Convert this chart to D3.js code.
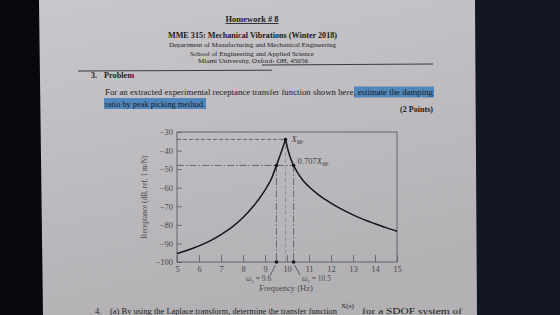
<!DOCTYPE html>
<html lang="en">
<head>
<meta charset="UTF-8">
<title>Receptance FRF - peak picking</title>
<script src="https://d3js.org/d3.v7.min.js"></script>
<style>
  html, body { margin: 0; padding: 0; background: #0b0c12; }
  svg { display: block; }
  .serif { font-family: "Liberation Serif", "DejaVu Serif", serif; }
  .tick text { fill: #4a4a4e; font-size: 8.5px; }
</style>
</head>
<body>
<svg id="chart" width="560" height="315"></svg>
<script>
// curve, split at the peak so it keeps its cusp
const freqLeft  = [5, 5.5, 6, 6.5, 7, 7.5, 8, 8.5, 9, 9.3, 9.52, 9.72, 9.93];
const dbLeft    = [-95.4, -93.5, -91.3, -88.6, -85.2, -81.2, -76, -69.6, -61.3, -54.9, -48, -41.5, -34];
const freqRight = [9.93, 10.1, 10.3, 10.5, 10.75, 11, 11.5, 12, 12.5, 13, 13.5, 14, 14.5, 15];
const dbRight   = [-34, -42, -48, -52.3, -56.4, -59.5, -64.4, -68.3, -71.7, -74.6, -77.2, -79.4, -81.5, -83.4];

const xTicks = [5, 6, 7, 8, 9, 10, 11, 12, 13, 14, 15];
const yTicks = [-30, -40, -50, -60, -70, -80, -90, -100];

// peak picking markers
const peakFreq = 9.93, peakDb = -34;
const halfDb = -48;
const w1Freq = 9.52, w2Freq = 10.3;
const w1Label = "9.6", w2Label = "10.5";

const svg = d3.select("#chart");

// background: desk left/right and the sheet of paper
const defs = svg.append("defs");
const grad = defs.append("linearGradient").attr("id", "paper")
  .attr("x1", 0).attr("y1", 0).attr("x2", 0.3).attr("y2", 1);
grad.append("stop").attr("offset", "0%").attr("stop-color", "#c9c7cb");
grad.append("stop").attr("offset", "100%").attr("stop-color", "#b3b1b4");

svg.append("rect").attr("width", 560).attr("height", 315).attr("fill", "#08090c");
svg.append("polygon").attr("points", "475,0 560,0 560,315 477,315").attr("fill", "#131725");
svg.append("polygon").attr("points", "39,0 475,0 477,315 43,315").attr("fill", "url(#paper)");

const page = svg.append("g").attr("class", "serif").attr("fill", "#1c1c22");

function line(txt, x, y, size, opts = {}) {
  const t = page.append("text").attr("x", x).attr("y", y)
    .attr("font-size", size).text(txt);
  if (opts.anchor) t.attr("text-anchor", opts.anchor);
  if (opts.bold) t.attr("font-weight", "bold");
  if (opts.width) t.attr("textLength", opts.width).attr("lengthAdjust", "spacingAndGlyphs");
  if (opts.underline) t.attr("text-decoration", "underline");
  return t;
}

// header
line("Homework # 8", 252, 22, 8.5, { anchor: "middle", bold: true, underline: true, width: 53 });
line("MME 315: Mechanical Vibrations (Winter 2018)", 252.5, 37.5, 8, { anchor: "middle", bold: true, width: 169 });
line("Department of Manufacturing and Mechanical Engineering", 252.5, 47, 6.5, { anchor: "middle", width: 167 });
line("School of Engineering and Applied Science", 252, 55.5, 6.5, { anchor: "middle", width: 124 });
line("Miami University, Oxford- OH, 45056", 253, 62.5, 6.5, { anchor: "middle", width: 110 });

page.append("path").attr("d", "M78,71 L272,70.2 M262,65 L433,64")
  .attr("stroke", "#2a2a30").attr("stroke-width", 0.9).attr("fill", "none");

line("3.", 91, 78, 8, { bold: true });
line("Problem", 104, 78, 8, { bold: true, width: 30 });

// highlighted part of the question
page.append("rect").attr("x", 354).attr("y", 86.5).attr("width", 80).attr("height", 11).attr("fill", "#4f86bb");
page.append("rect").attr("x", 104).attr("y", 98).attr("width", 102).attr("height", 11).attr("fill", "#4f86bb");
line("For an extracted experimental receptance transfer function shown here, estimate the damping", 105, 95, 8.2, { width: 328 });
line("ratio by peak picking method.", 105, 106.5, 8.2, { width: 100 });
line("(2 Points)", 433, 112, 8, { anchor: "end", bold: true, width: 33 });

// chart
const x = d3.scaleLinear().domain([5, 15]).range([177, 397]);
const y = d3.scaleLinear().domain([-100, -30]).range([262, 132]);

const chart = svg.append("g").attr("class", "serif");
chart.append("rect").attr("x", x(5)).attr("y", y(-30))
  .attr("width", x(15) - x(5)).attr("height", y(-100) - y(-30))
  .attr("fill", "none").attr("stroke", "#5a5a60").attr("stroke-width", 0.9);

const xAxis = chart.append("g").attr("transform", `translate(0,${y(-100)})`)
  .call(d3.axisBottom(x).tickValues(xTicks).tickSize(-7).tickPadding(4).tickFormat(d3.format("d")));
const yAxis = chart.append("g").attr("transform", `translate(${x(5)},0)`)
  .call(d3.axisLeft(y).tickValues(yTicks).tickSize(-5).tickPadding(4).tickFormat(d => "\u2212" + Math.abs(d)));
[xAxis, yAxis].forEach(a => {
  a.select(".domain").remove();
  a.selectAll(".tick line").attr("stroke", "#5a5a60").attr("stroke-width", 0.8);
  a.selectAll(".tick text").attr("font-family", "Liberation Serif");
});

chart.append("text").attr("transform", `translate(147,${(y(-30) + y(-100)) / 2}) rotate(-90)`)
  .attr("text-anchor", "middle").attr("font-size", 7.5).attr("fill", "#4a4a4e")
  .attr("textLength", 83).attr("lengthAdjust", "spacingAndGlyphs")
  .text("Receptance (dB, ref. 1 m/N)");
chart.append("text").attr("x", 286).attr("y", 291).attr("text-anchor", "middle")
  .attr("font-size", 8.5).attr("fill", "#4a4a4e").text("Frequency (Hz)");

// guide lines
const guide = chart.append("g").attr("fill", "none").attr("stroke-width", 0.8);
guide.append("line").attr("x1", x(5)).attr("x2", x(peakFreq)).attr("y1", y(peakDb)).attr("y2", y(peakDb))
  .attr("stroke", "#505058").attr("stroke-dasharray", "4,2");
guide.append("line").attr("x1", x(5)).attr("x2", x(w2Freq)).attr("y1", y(halfDb)).attr("y2", y(halfDb))
  .attr("stroke", "#505058").attr("stroke-dasharray", "7,2,1.5,2");
guide.append("line").attr("x1", x(peakFreq)).attr("x2", x(peakFreq)).attr("y1", y(peakDb)).attr("y2", y(-100))
  .attr("stroke", "#7a8a9a").attr("stroke-dasharray", "4,2.5");
[w1Freq, w2Freq].forEach(f => {
  guide.append("line").attr("x1", x(f)).attr("x2", x(f)).attr("y1", y(halfDb)).attr("y2", y(-100))
    .attr("stroke", "#505058").attr("stroke-dasharray", "7,2,1.5,2");
});

// response curve
const curve = d3.line().x(d => x(d[0])).y(d => y(d[1])).curve(d3.curveMonotoneX);
chart.append("path").datum(d3.zip(freqLeft, dbLeft)).attr("d", curve)
  .attr("fill", "none").attr("stroke", "#15151a").attr("stroke-width", 1.5);
chart.append("path").datum(d3.zip(freqRight, dbRight)).attr("d", curve)
  .attr("fill", "none").attr("stroke", "#15151a").attr("stroke-width", 1.5);

// dots
const dots = [[peakFreq, peakDb], [w1Freq, halfDb], [w2Freq, halfDb], [w1Freq, -100], [w2Freq, -100]];
chart.selectAll("circle.pt").data(dots).join("circle").attr("class", "pt")
  .attr("cx", d => x(d[0])).attr("cy", d => y(d[1])).attr("r", 1.8).attr("fill", "#15151a");

// point labels
const xm = chart.append("text").attr("x", x(peakFreq) + 6).attr("y", y(peakDb) + 3)
  .attr("font-size", 8.5).attr("font-style", "italic").attr("fill", "#3a3a42");
xm.append("tspan").text("X");
xm.append("tspan").attr("font-size", 5.5).attr("dy", 2).text("Mr");
const xh = chart.append("text").attr("x", x(w2Freq) + 4).attr("y", y(halfDb) - 1)
  .attr("font-size", 8.5).attr("fill", "#3a3a42");
xh.append("tspan").text("0.707");
xh.append("tspan").attr("font-style", "italic").text("X");
xh.append("tspan").attr("font-size", 5.5).attr("font-style", "italic").attr("dy", 2).text("Mr");

// omega labels with arrows
const wl = [[w1Freq, 246, w1Label, "1", 270.5, 275], [w2Freq, 302, w2Label, "2", 300, 275]];
wl.forEach(([f, lx, val, sub, ax, ay]) => {
  chart.append("line").attr("x1", ax).attr("y1", ay).attr("x2", x(f) + (ax < x(f) ? -1 : 1)).attr("y2", y(-100) + 3)
    .attr("stroke", "#3a3a42").attr("stroke-width", 0.7);
  const t = chart.append("text").attr("x", lx).attr("y", 281).attr("font-size", 7.5).attr("fill", "#4a4a4e");
  t.append("tspan").attr("font-style", "italic").text("\u03c9");
  t.append("tspan").attr("font-size", 5).attr("dy", 1.5).text(sub);
  t.append("tspan").attr("dy", -1.5).text(" = " + val);
});

// start of next question, at the bottom edge of the photo
line("4.", 95, 314, 8.5);
line("(a) By using the Laplace transform, determine the transfer function", 110, 314, 8.5, { width: 227 });
line("X(s)", 341, 308, 7, { width: 13 });
line("for a SDOF system of", 362, 314, 8.5, { width: 100 });
</script>
</body>
</html>
